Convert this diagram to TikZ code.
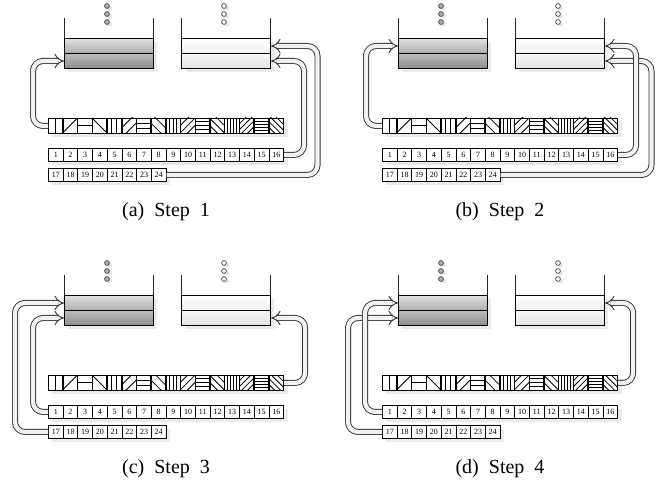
\documentclass[tikz,border=0pt]{standalone}
\usepackage{fontspec}
\setmainfont{Liberation Serif}
\usetikzlibrary{arrows.meta}
\tikzset{
  px/.style={x=0.5pt,y=-0.5pt},
  wall/.style={draw=black!85, line width=0.5pt},
  cell/.style={draw=black, line width=0.45pt, fill=white, minimum width=7.35pt, minimum height=6.5pt, inner sep=0pt, anchor=north west, font=\fontsize{4}{4}\selectfont},
  pcell/.style={draw=black, line width=0.45pt, fill=white, minimum width=7.35pt, minimum height=7.5pt, inner sep=0pt, anchor=north west},
  hatch/.style={line width=0.4pt},
  shadowbox/.style={fill=black!8, draw=none},
  band/.style={draw=black, line width=0.5pt, minimum width=44.5pt, minimum height=7.5pt, inner sep=0pt, anchor=north west},
  bandL1/.style={band, top color=black!12, bottom color=black!32},
  bandL2/.style={band, top color=black!26, bottom color=black!45},
  bandR1/.style={band, top color=white, bottom color=black!6},
  bandR2/.style={band, top color=black!3, bottom color=black!11},
  dotL/.style={draw=black!75, fill=black!30, line width=0.35pt},
  dotR/.style={draw=black!75, fill=white, line width=0.35pt},
  dotshadow/.style={fill=black!10, draw=none},
  pipe/.style={draw=black!80, double=black!5, double distance=2.1pt, line width=0.45pt, rounded corners=5pt, -{Implies}},
  captext/.style={font=\fontsize{10}{12}\selectfont, inner sep=0pt}
}
\newcommand\drawpanel[4]{%
\begin{scope}[shift={(#2,#3)}]
  % shadows
  \fill[shadowbox] (68,42) rectangle (157,72);
  \fill[shadowbox] (186,42) rectangle (274,72);
  \fill[shadowbox] (52,122) rectangle (288,137);
  \fill[shadowbox] (52,152) rectangle (288,165);
  \fill[shadowbox] (52,172) rectangle (170,185);
  % dots
  \foreach \yy in {6,14,22}{
    \fill[dotshadow] (109.5,{\yy+2}) circle[radius=1.25pt];
    \draw[dotL] (107,\yy) circle[radius=1.2pt];
    \fill[dotshadow] (226.5,{\yy+2}) circle[radius=1.25pt];
    \draw[dotR] (224,\yy) circle[radius=1.2pt];
  }
  % containers
  \draw[wall] (64,18) -- (64,38);
  \draw[wall] (153,18) -- (153,38);
  \draw[wall] (181,18) -- (181,38);
  \draw[wall] (270,18) -- (270,38);
  \node[bandL1] (#1L1) at (64,38) {};
  \node[bandL2] (#1L2) at (64,53) {};
  \node[bandR1] (#1R1) at (181,38) {};
  \node[bandR2] (#1R2) at (181,53) {};
  % pattern strip
  \foreach \i in {1,...,16}{
    \pgfmathsetmacro\xa{48+(\i-1)*14.7}
    \pgfmathtruncatemacro\ty{mod(\i-1,4)}
    \pgfmathtruncatemacro\nn{div(\i-1,4)+1}
    \node[pcell] (#1p\i) at (\xa,118) {};
    \begin{scope}
      \clip (\xa,118) rectangle ({\xa+14.7},133);
      \foreach \k in {1,...,\nn}{
        \pgfmathsetmacro\ff{\k/(\nn+1)}
        \pgfmathsetmacro\dd{-14.7+2*14.7*\ff}
        \ifcase\ty
          \draw[hatch] ({\xa+14.7*\ff},118) -- ({\xa+14.7*\ff},133);
        \or
          \draw[hatch] ({\xa+7.35+\dd-20},{125.5+20}) -- ({\xa+7.35+\dd+20},{125.5-20});
        \or
          \draw[hatch] (\xa,{118+15*\ff}) -- ({\xa+14.7},{118+15*\ff});
        \or
          \draw[hatch] ({\xa+7.35+\dd-20},{125.5-20}) -- ({\xa+7.35+\dd+20},{125.5+20});
        \fi
      }
    \end{scope}
    \draw[line width=0.45pt] (\xa,118) rectangle ({\xa+14.7},133);
  }
  % number cells
  \foreach \i in {1,...,16}{
    \pgfmathsetmacro\xa{48+(\i-1)*14.7}
    \node[cell] (#1n\i) at (\xa,148) {\i};
  }
  \foreach \i in {17,...,24}{
    \pgfmathsetmacro\xa{48+(\i-17)*14.7}
    \node[cell] (#1n\i) at (\xa,168) {\i};
  }
  \node[captext] (#1cap) at (166,212) {#4};
\end{scope}}
\begin{document}
\begin{tikzpicture}[px]
\useasboundingbox (0,0) rectangle (664,497);
\drawpanel{a}{0}{0}{(a)\enspace Step\enspace 1}
\drawpanel{b}{334}{0}{(b)\enspace Step\enspace 2}
\drawpanel{c}{0}{257}{(c)\enspace Step\enspace 3}
\drawpanel{d}{334}{257}{(d)\enspace Step\enspace 4}
% panel a
\draw[pipe] (ap1.west) -- ++(-15,0) |- (aL2.west);
\draw[pipe] (an16.east) -- ++(20,0) |- (aR2.east);
\draw[pipe] (an24.east) -- ++(151,0) |- (aR1.east);
% panel b
\draw[pipe] (bp1.west) -- ++(-16,0) |- (bL1.west);
\draw[pipe] (bn24.east) -- ++(151,0) |- (bR2.east);
\draw[pipe] (bn16.east) -- ++(18,0) |- (bR1.east);
% panel c
\draw[pipe] (cp16.east) -- ++(21,0) |- (cR2.east);
\draw[pipe] (cn1.west) -- ++(-15,0) |- (cL2.west);
\draw[pipe] (cn17.west) -- ++(-33,0) |- (cL1.west);
% panel d
\draw[pipe] (dp16.east) -- ++(15,0) |- (dR1.east);
\draw[pipe] (dn17.west) -- ++(-34,0) |- (dL2.west);
\draw[pipe] (dn1.west) -- ++(-17,0) |- (dL1.west);
\end{tikzpicture}
\end{document}
